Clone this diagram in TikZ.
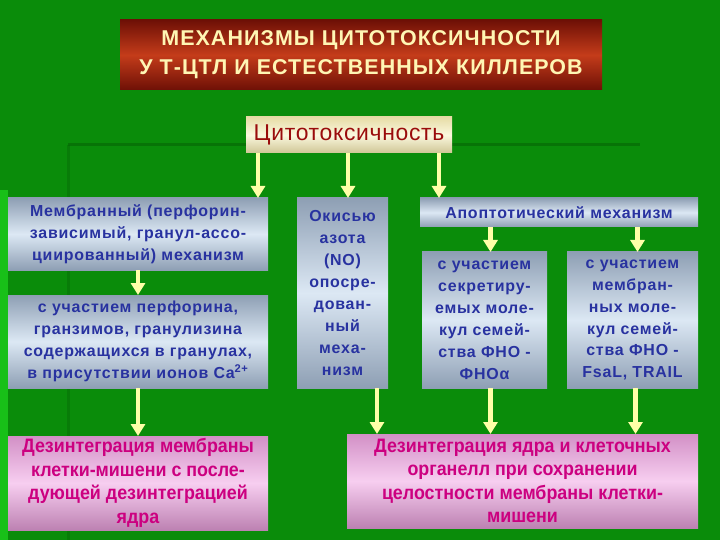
\documentclass[tikz,border=0pt]{standalone}
\usepackage{fontspec}
\setmainfont{Liberation Sans}
\newfontfamily\boxfont[LetterSpace=5]{Liberation Sans}
\newfontfamily\headfont[LetterSpace=5]{Liberation Sans}
\newfontfamily\cytfont[LetterSpace=3]{Liberation Sans}
\newfontfamily\narrowfont[FakeStretch=0.92]{Liberation Sans}
\usetikzlibrary{arrows.meta,positioning,calc}
\usepackage{xcolor}
\definecolor{slidegreen}{HTML}{0A8C0A}
\definecolor{slidedark}{HTML}{066406}
\definecolor{slidebright}{HTML}{18C018}
\definecolor{titledark}{HTML}{6E1006}
\definecolor{titlered}{HTML}{C43C1A}
\definecolor{titletext}{HTML}{FFF6B4}
\definecolor{creamtop}{HTML}{E6DCA6}
\definecolor{creammid}{HTML}{FBF8DE}
\definecolor{cyttext}{HTML}{9A0C0C}
\definecolor{steelgrey}{HTML}{8E9FB4}
\definecolor{steellight}{HTML}{DCE8F4}
\definecolor{mechblue}{HTML}{2832A0}
\definecolor{pinkedge}{HTML}{D290C6}
\definecolor{pinkmid}{HTML}{F7CEF0}
\definecolor{pinktext}{HTML}{CC0080}
\definecolor{feedyellow}{HTML}{FFFFA8}

\begin{document}
\begin{tikzpicture}[x=1bp, y=-1bp, >={Triangle[width=14bp,length=12bp]}]
  \tikzstyle{titlebox}=[anchor=north west,outer sep=0pt,inner sep=0pt,align=center,text=titletext,top color=titledark,bottom color=titledark,middle color=titlered,font=\headfont\bfseries\fontsize{21.5}{29}\selectfont]
  \tikzstyle{cytbox}=[anchor=north west,outer sep=0pt,inner sep=0pt,text=cyttext,top color=creamtop,bottom color=creamtop!90!black,middle color=creammid,font=\cytfont\fontsize{23}{26}\selectfont]
  \tikzstyle{mechbox}=[anchor=north west,outer sep=0pt,inner sep=2bp,align=center,text=mechblue,top color=steelgrey,bottom color=steelgrey,middle color=steellight,font=\boxfont\bfseries\fontsize{16}{22}\selectfont]
  \tikzstyle{resultbox}=[anchor=north west,outer sep=0pt,inner sep=2bp,align=center,text=pinktext,top color=pinkedge,bottom color=pinkedge!90!black,middle color=pinkmid,font=\narrowfont\bfseries\fontsize{19.5}{23.5}\selectfont]
  \tikzstyle{feed}=[->,line width=4.5bp,draw=feedyellow]
  \useasboundingbox (0,0) rectangle (720,540);
  % slide background
  \fill[slidegreen] (0,0) rectangle (720,540);
  \fill[slidebright] (0,190) rectangle (8,540);
  \draw[slidedark,line width=3bp,opacity=0.6] (68,145) -- (640,145);
  \draw[slidedark,line width=3bp,opacity=0.4] (68,145) -- (68,540);
  % headings
  \node[titlebox,minimum width=482bp,minimum height=70bp] (title) at (120,20) {МЕХАНИЗМЫ ЦИТОТОКСИЧНОСТИ\\У Т-ЦТЛ И ЕСТЕСТВЕННЫХ КИЛЛЕРОВ};
  \node[cytbox,minimum width=206bp,minimum height=36bp] (cyto) at (246,117) {Цитотоксичность};
  % mechanisms
  \node[mechbox,minimum width=260bp,minimum height=72bp] (mem) at (8,198) {Мембранный (перфорин-\\зависимый, гранул-ассо-\\циированный) механизм};
  \node[mechbox,minimum width=260bp,minimum height=93bp] (perf) at (8,295) {с участием перфорина,\\гранзимов, гранулизина\\содержащихся в гранулах,\\в присутствии ионов Ca\textsuperscript{2+}};
  \node[mechbox,minimum width=91bp,minimum height=190bp] (no) at (297,198) {Окисью\\азота\\(NO)\\опосре-\\дован-\\ный\\меха-\\низм};
  \node[mechbox,minimum width=278bp,minimum height=29bp] (apo) at (420,198) {Апоптотический механизм};
  \node[mechbox,minimum width=125bp,minimum height=136bp] (sec) at (422,252) {с участием\\секретиру-\\емых моле-\\кул семей-\\ства ФНО -\\ФНОα};
  \node[mechbox,minimum width=131bp,minimum height=136bp] (memb) at (567,252) {с участием\\мембран-\\ных моле-\\кул семей-\\ства ФНО -\\FsaL, TRAIL};
  % outcomes
  \node[resultbox,minimum width=260bp,minimum height=94bp] (dis1) at (8,436) {Дезинтеграция мембраны\\клетки-мишени с после-\\дующей дезинтеграцией\\ядра};
  \node[resultbox,minimum width=351bp,minimum height=94bp] (dis2) at (347,434) {Дезинтеграция ядра и клеточных\\органелл при сохранении\\целостности мембраны клетки-\\мишени};
  % arrows
  \draw[feed] ([xshift=12bp]cyto.south west) -- ([xshift=12bp]cyto.south west |- mem.north);
  \draw[feed] ([xshift=-1bp]cyto.south) -- ([xshift=-1bp]cyto.south |- no.north);
  \draw[feed] ([xshift=-13bp]cyto.south east) -- ([xshift=-13bp]cyto.south east |- apo.north);
  \draw[feed] (mem) -- (perf);
  \draw[feed] (perf) -- (dis1);
  \draw[feed] ([xshift=6bp]sec.north |- apo.south) -- ([xshift=6bp]sec.north);
  \draw[feed] ([xshift=5bp]memb.north |- apo.south) -- ([xshift=5bp]memb.north);
  \draw[feed] ([xshift=-11bp]no.south east) -- ([xshift=-11bp]no.south east |- dis2.north);
  \draw[feed] ([xshift=6bp]sec.south) -- ([xshift=6bp]sec.south |- dis2.north);
  \draw[feed] ([xshift=3bp]memb.south) -- ([xshift=3bp]memb.south |- dis2.north);
\end{tikzpicture}
\end{document}
